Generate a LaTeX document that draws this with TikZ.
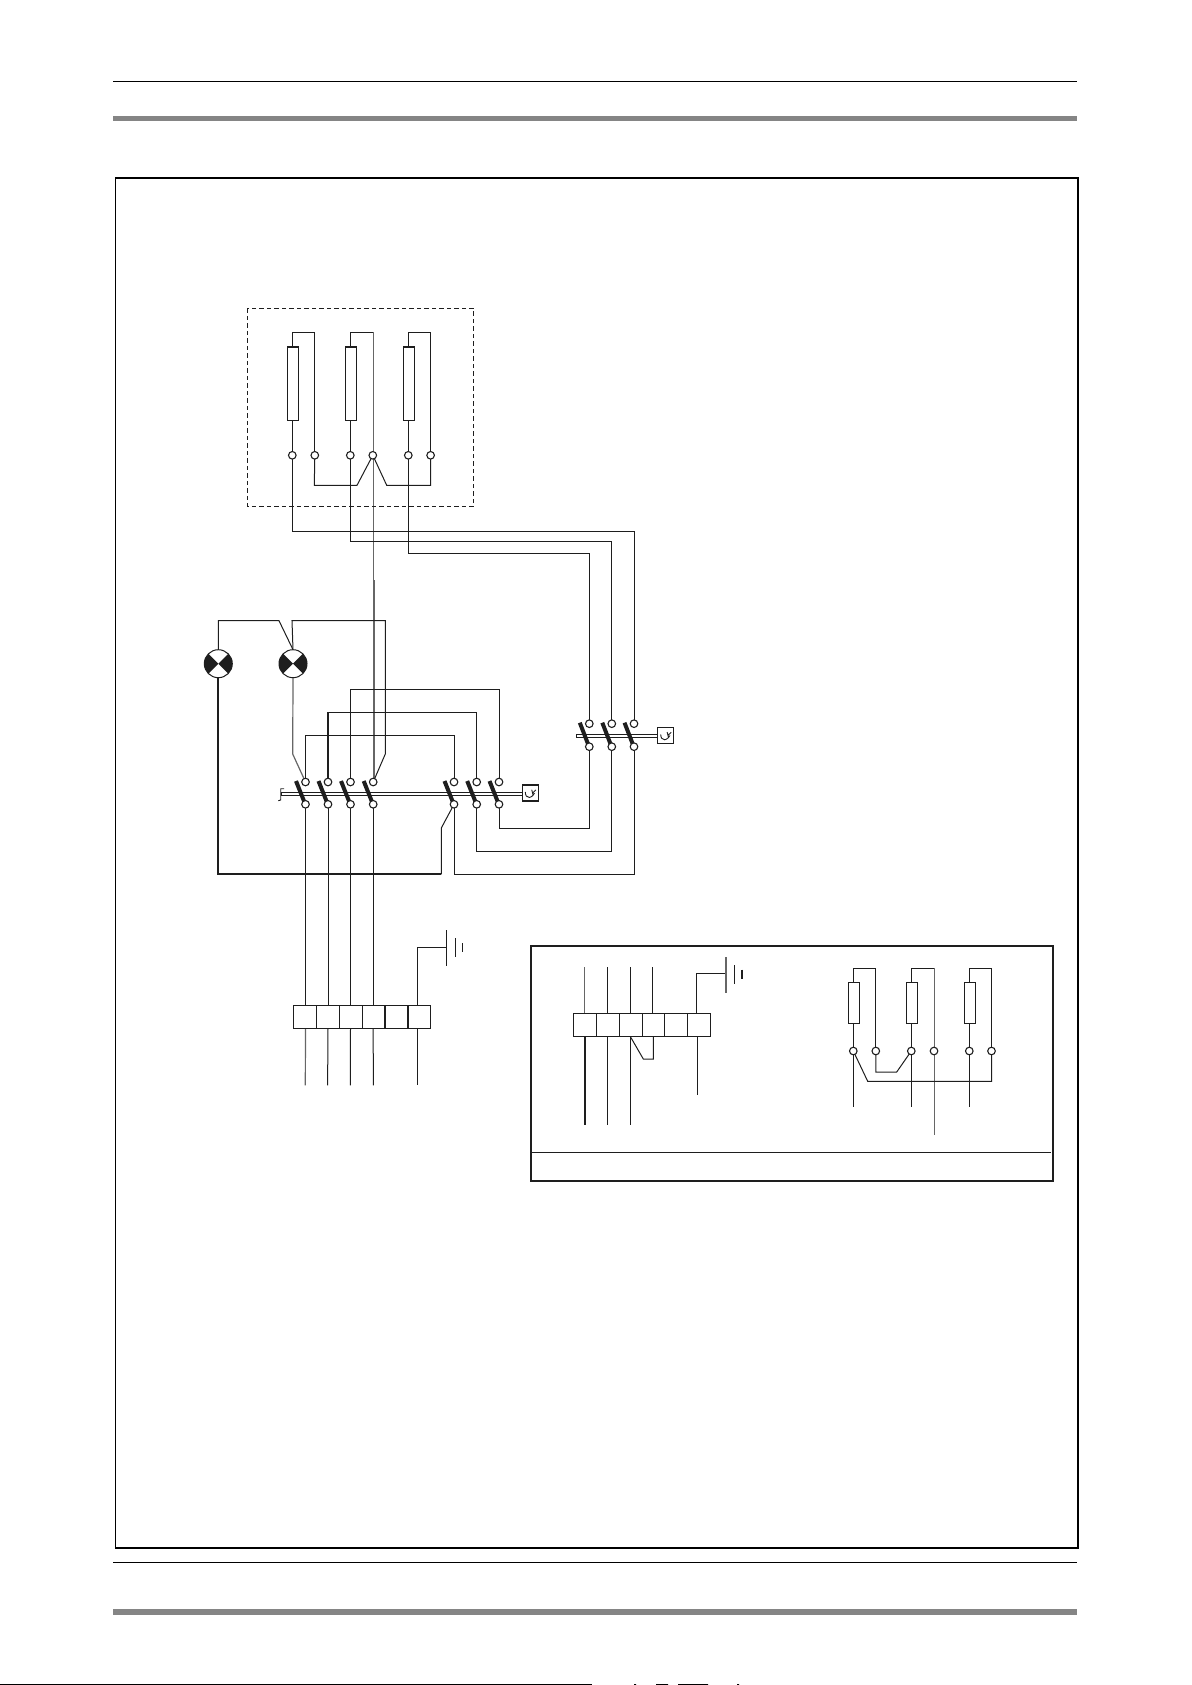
\documentclass[tikz,border=0pt]{standalone}
\usetikzlibrary{backgrounds,calc}
\definecolor{ink}{HTML}{1E1E1E}
\definecolor{bargray}{HTML}{858585}
\definecolor{wiregray}{HTML}{666666}
\tikzset{
  wire/.style={draw=ink,line width=1pt},
  heavywire/.style={draw=ink,line width=1.8pt},
  graywire/.style={draw=wiregray,line width=1.2pt},
  term/.style={circle,draw=ink,fill=white,line width=1.1pt,minimum size=7.6pt,inner sep=0pt,outer sep=0pt},
  resist/.style={rectangle,draw=ink,fill=white,line width=1pt,minimum width=11.4pt,inner sep=0pt,outer sep=0pt},
  cell/.style={rectangle,draw=ink,fill=white,line width=1.1pt,minimum height=23pt,inner sep=0pt,outer sep=0pt},
  lamp/.style={circle,draw=ink,fill=white,line width=1pt,minimum size=28pt,inner sep=0pt,outer sep=0pt,
    path picture={
      \fill[ink] (path picture bounding box.center)--(path picture bounding box.north west)--(path picture bounding box.south west)--cycle;
      \fill[ink] (path picture bounding box.center)--(path picture bounding box.north east)--(path picture bounding box.south east)--cycle;
    }},
  motorbox/.style={rectangle,draw=ink,fill=white,line width=1.1pt,minimum size=16pt,inner sep=0pt,outer sep=0pt},
  blade/.style={draw=ink,line width=4pt},
  shaft/.style={draw=ink,fill=white,line width=0.9pt},
  frameline/.style={draw=black,line width=1.7pt},
  graybar/.style={fill=bargray,draw=none},
}
\newcommand{\bladeat}[2]{\draw[blade] ($(#1.center)+(-9.5,-1)$) -- ($(#2.center)+(-1,-2)$);}
\newcommand{\squiggle}[1]{\draw[ink,line width=0.9pt] ($(#1.center)+(-5,-1)$) .. controls +(0,3.5) and +(-2.5,0) .. ($(#1.center)+(-1,4.5)$) .. controls +(2.5,0) and +(3.5,-2) .. ($(#1.center)+(2.5,1)$) .. controls +(-0.3,-1.5) and +(-0.5,-1.5) .. ($(#1.center)+(1.5,-3)$) ($(#1.center)+(2.8,-0.5)$) -- ($(#1.center)+(5.5,-3)$);}
\begin{document}
\begin{tikzpicture}[x=1pt,y=-1pt]
\useasboundingbox (0,0) rectangle (1191,1685);
% page furniture
\draw[black,line width=1.2pt] (113,81.3) -- (1077,81.3);
\fill[graybar] (113,116) rectangle (1077,121);
\draw[frameline] (115.5,177.7) rectangle (1078,1548.3);
\draw[black,line width=1.2pt] (113,1562.3) -- (1077,1562.3);
\fill[graybar] (113,1609) rectangle (1077,1615);
\draw[black,line width=1.2pt] (0,1684.5) -- (591.7,1684.5);
\fill[black] (656,1684) rectangle (668,1685) (634,1684) rectangle (636,1685) (678,1684) rectangle (708,1685) (737,1684) rectangle (739,1685);
% dashed enclosure
\draw[ink,line width=0.9pt,dash pattern=on 4.5pt off 3pt] (247.3,308.3) rectangle (473.7,506.3);
% ---------- motor windings ----------
\node[resist,minimum height=73.6pt] (r1) at (293,383.5) {};
\node[resist,minimum height=73.6pt] (r2) at (351,383.5) {};
\node[resist,minimum height=73.6pt] (r3) at (409,383.5) {};
\node[term] (d1) at (292.3,455.3) {};
\node[term] (d2) at (314.8,455.3) {};
\node[term] (d3) at (350.3,455.3) {};
\node[term] (d4) at (372.8,455.3) {};
\node[term] (d5) at (408.3,455.3) {};
\node[term] (d6) at (430.6,455.3) {};
% ---------- lamps ----------
\node[lamp] (l1) at (218.3,663.7) {};
\node[lamp] (l2) at (293,663.7) {};
% ---------- switch group 1 ----------
\foreach \n/\x in {1/305.5,2/328,3/350.5,4/373.2,5/454,6/476.7,7/499}{
  \node[term] (s\n t) at (\x,782) {};
  \node[term] (s\n b) at (\x,804.3) {};
}
\node[motorbox] (m1) at (530.3,793) {};
% ---------- switch group 2 ----------
\foreach \n/\x in {1/589.3,2/611.8,3/634}{
  \node[term] (q\n t) at (\x,723.7) {};
  \node[term] (q\n b) at (\x,746.7) {};
}
\node[motorbox] (m2) at (665.7,735.3) {};
% ---------- terminal block ----------
\node[cell,minimum width=23pt] (k1) at (304.8,1016.8) {};
\node[cell,minimum width=23pt] (k2) at (327.8,1016.8) {};
\node[cell,minimum width=23pt] (k3) at (350.8,1016.8) {};
\node[cell,minimum width=22.7pt] (k4) at (373.65,1016.8) {};
\node[cell,minimum width=23pt] (k5) at (396.5,1016.8) {};
\node[cell,minimum width=22.3pt] (k6) at (419.15,1016.8) {};
\coordinate (g1) at (446.3,947.3);
% ---------- inset ----------
\node[cell,minimum width=23pt] (p1) at (584.8,1025) {};
\node[cell,minimum width=23pt] (p2) at (607.8,1025) {};
\node[cell,minimum width=23pt] (p3) at (630.8,1025) {};
\node[cell,minimum width=22pt] (p4) at (653.3,1025) {};
\node[cell,minimum width=23pt] (p5) at (675.8,1025) {};
\node[cell,minimum width=23pt] (p6) at (698.8,1025) {};
\coordinate (g2) at (726,973.7);
\node[resist,minimum height=41pt] (w1) at (854,1002.8) {};
\node[resist,minimum height=41pt] (w2) at (912,1002.8) {};
\node[resist,minimum height=41pt] (w3) at (970,1002.8) {};
\node[term] (e1) at (853.3,1051) {};
\node[term] (e2) at (875.8,1051) {};
\node[term] (e3) at (911.3,1051) {};
\node[term] (e4) at (934,1051) {};
\node[term] (e5) at (969.3,1051) {};
\node[term] (e6) at (991.5,1051) {};

\begin{scope}[on background layer]
% windings
\path[wire] (d1.center) -- (d1.center |- r1.south);
\path[wire] (d1.center |- r1.north) -- (292.3,332.3) -| (d2.center);
\path[wire] (d3.center) -- (d3.center |- r2.south);
\path[wire] (d3.center |- r2.north) -- (350.3,332.3) -- (373.7,332.3);
\path[wire] (d5.center) -- (d5.center |- r3.south);
\path[wire] (d5.center |- r3.north) -- (408.3,332.3) -| (d6.center);
\path[wire] (d2.center) -- (314.3,485.3) -- (357,485.3) -- (d4.center) -- (386.7,485.3) -- (430.6,485.3) -- (d6.center);
% neutral line
\path[graywire,line width=1pt] (373.7,332.3) -- (373.7,580);
\path[graywire,line width=1.9pt] (373.7,580) -- (373.7,782);
% feeds to switch group 2
\path[wire] (d1.center) -- (292.3,531) -| (q3t.center);
\path[wire] (d3.center) -- (350.3,541.7) -| (q2t.center);
\path[wire] (d5.center) -- (408.3,553.7) -| (q1t.center);
% lamps
\path[wire] (l1.north) -- (218.3,620.7) -- (279,620.7) -- (l2.north);
\path[wire] (l2.north) -- (292,620.7) -- (385.3,620.7) -- (385.3,754) -- (s4t.center);
\path[graywire] (l2.south) -- (292.7,754) -- (s1t.center);
\path[heavywire] (l1.south) -- (218.3,874.3) -- (441.3,874.3);
\path[wire] (441.3,874.3) -- (441.3,828) -- (s5b.center);
% switch cross links
\path[wire] (s1t.center) |- (454,735.7) -- (s5t.center);
\path[heavywire] (s2t.center) -- (328,712.3);
\path[wire] (328,712.3) -- (476.7,712.3) -- (s6t.center);
\path[wire] (s3t.center) |- (499,689.3) -- (s7t.center);
% group 1 to group 2
\path[wire] (s5b.center) |- (634,874.3) -- (q3b.center);
\path[wire] (s6b.center) |- (611.8,851.5) -- (q2b.center);
\path[wire] (s7b.center) |- (589.3,828.3) -- (q1b.center);
% supply
\foreach \n in {1,2,3,4}{\path[wire] (s\n b.center) -- (s\n b.center |- k\n.north);}
\path[graywire] (s1b.center |- k1.south) -- (305.3,1085.3);
\path[wire] (s2b.center |- k2.south) -- (327.6,1085.3);
\path[wire] (s3b.center |- k3.south) -- (350.3,1085.3);
\path[wire] (s4b.center |- k4.south) -- (373.3,1085.3);
\path[wire] (417.3,1028.3) -- (417.3,1085.3);
\path[wire] (417.3,1005.3) -- (417.3,947.3) -- (g1);
% shafts and blades
\path[shaft] (281.7,792.3) rectangle (522.3,795.3);
\foreach \n in {1,...,7}{\bladeat{s\n t}{s\n b}}
\path[shaft] (576.3,734) rectangle (657.7,737.4);
\foreach \n in {1,2,3}{\bladeat{q\n t}{q\n b}}
\path[wire,line width=0.9pt] (284,788.7) -- (280.7,788.7) -- (280.7,800) -- (278.3,800.7);
% inset wiring
\path[graywire] (584.7,967.3) -- (584.7,1013.5);
\path[wire] (607,967.3) -- (607,1013.5);
\path[wire] (630,967.3) -- (630,1013.5);
\path[wire] (652.7,967.3) -- (652.7,1013.5);
\path[wire] (696.5,1013.5) |- (g2);
\path[heavywire] (584.7,1036.5) -- (584.7,1125.3);
\path[wire] (607.3,1036.5) -- (607.3,1125.3);
\path[wire] (630.3,1036.5) -- (630.3,1125.3);
\path[wire] (697.3,1036.5) -- (697.3,1094.7);
\path[wire] (630.3,1036.5) -- (643.3,1059) -- (653.3,1059) -- (653.3,1036.5);
\path[wire] (e1.center) -- (e1.center |- w1.south);
\path[wire] (e1.center |- w1.north) -- (853.3,968.3) -| (e2.center);
\path[wire] (e3.center) -- (e3.center |- w2.south);
\path[wire] (e3.center |- w2.north) -- (911.3,968.3) -- (934.7,968.3);
\path[wire] (e5.center) -- (e5.center |- w3.south);
\path[wire] (e5.center |- w3.north) -- (969.3,968.3) -| (e6.center);
\path[graywire] (934.7,968.3) -- (934.7,1134.7);
\path[wire] (e1.center) -- (853.3,1107.3);
\path[wire] (e3.center) -- (911.3,1107.3);
\path[wire] (e5.center) -- (969.3,1107.3);
\path[wire] (e2.center) -- (875.8,1072) -- (896.7,1072) -- (e3.center);
\path[wire] (e1.center) -- (867.7,1081.3) -- (991.5,1081.3) -- (e6.center);
\end{scope}
% foreground details
\foreach \n in {1,2,3}{\draw[ink,line width=2.2pt] (r\n.north west) -- (r\n.north east);}
\draw[ink,line width=1.8pt] (k5.north west) -- (k5.south west) (k5.north east) -- (k5.south east);
\squiggle{m1}
\squiggle{m2}
% earth symbols
\draw[ink,line width=1.1pt] (446.3,930) -- (446.3,965.7) (455.3,938) -- (455.3,956.7) (462.3,943) -- (462.3,951.7);
\draw[wiregray,line width=1.3pt] (726,957.3) -- (726,992.7);
\draw[ink,line width=1.1pt] (734.3,965) -- (734.3,983.7);
\draw[ink,line width=1.4pt] (742,969.7) -- (742,978.7);
% inset frame
\draw[ink,line width=1.8pt] (531,946) rectangle (1052.7,1180.7);
\draw[ink,line width=1pt] (531,1152) -- (1050.7,1152);
\end{tikzpicture}
\end{document}
